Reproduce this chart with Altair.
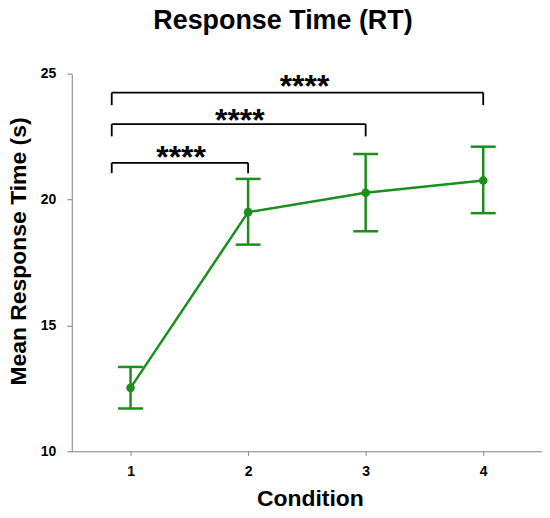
import altair as alt
import pandas as pd

# ---- data ----
chart_title = ["Response Time (RT)"]
conditions = [1, 2, 3, 4]
mean_rt = [12.52, 19.50, 20.27, 20.76]
lower_rt = [11.70, 18.21, 18.74, 19.46]
upper_rt = [13.35, 20.82, 21.81, 22.10]

# significance brackets (all start just left of condition 1)
br_start = [0.84, 0.84, 0.84]
br_end = [2, 3, 4]
br_top = [21.46, 23.00, 24.25]
br_drop = [21.05, 22.51, 23.75]
star_x = [1.43, 1.93, 2.48]
star_y = [21.97, 23.43, 24.78]
star_label = ["****", "****", "****"]

GREEN = "#1a8f1a"
FONT = "Liberation Sans"

df = pd.DataFrame({"cond": conditions, "mean": mean_rt, "lo": lower_rt, "hi": upper_rt})
br = pd.DataFrame({"x0": br_start, "x1": br_end, "top": br_top, "drop": br_drop})
br_left = pd.DataFrame({"x": br_start, "top": br_top, "drop": br_drop})
br_right = pd.DataFrame({"x": br_end, "top": br_top, "drop": br_drop})
stars = pd.DataFrame({"x": star_x, "y": star_y, "t": star_label})
ttl = pd.DataFrame({"t": chart_title})

xscale = alt.Scale(domain=[0.5, 4.5], nice=False, zero=False)
yscale = alt.Scale(domain=[10, 25], nice=False, zero=False)

xaxis = alt.Axis(
    values=[1, 2, 3, 4], format="d", grid=False,
    title="Condition", titleFont=FONT, titleFontSize=23, titleFontWeight="bold",
    titleColor="black", titleX=239, titleY=54, titleBaseline="alphabetic",
    labelFont=FONT, labelFontSize=14, labelFontWeight="bold", labelColor="black",
    labelPadding=9, tickSize=4, domainColor="#808080", tickColor="#808080",
    domainWidth=1, tickWidth=1,
)
yaxis = alt.Axis(
    values=[10, 15, 20, 25], format="d", grid=False,
    title="Mean Response Time (s)", titleFont=FONT, titleFontSize=23,
    titleFontWeight="bold", titleColor="black", titleAngle=270,
    titleX=-53, titleY=178, titleBaseline="middle", titleAlign="center",
    labelFont=FONT, labelFontSize=14, labelFontWeight="bold", labelColor="black",
    labelPadding=11, tickSize=5, domainColor="#808080", tickColor="#808080",
    domainWidth=1, tickWidth=1,
)

base = alt.Chart(df)
line = base.mark_line(color=GREEN, strokeWidth=2.5).encode(
    x=alt.X("cond:Q", scale=xscale, axis=xaxis),
    y=alt.Y("mean:Q", scale=yscale, axis=yaxis),
)
err = base.mark_rule(color=GREEN, strokeWidth=2.5).encode(
    x="cond:Q", y="lo:Q", y2="hi:Q"
)
cap_hi = base.mark_tick(color=GREEN, orient="horizontal", size=25, thickness=2.5, opacity=1).encode(
    x="cond:Q", y="hi:Q"
)
cap_lo = base.mark_tick(color=GREEN, orient="horizontal", size=25, thickness=2.5, opacity=1).encode(
    x="cond:Q", y="lo:Q"
)
pts = base.mark_circle(color=GREEN, size=75, opacity=1).encode(x="cond:Q", y="mean:Q")

bh = alt.Chart(br).mark_rule(color="black", strokeWidth=1.8).encode(
    x="x0:Q", x2="x1:Q", y="top:Q"
)
bl = alt.Chart(br_left).mark_rule(color="black", strokeWidth=1.8).encode(
    x="x:Q", y="top:Q", y2="drop:Q"
)
brr = alt.Chart(br_right).mark_rule(color="black", strokeWidth=1.8).encode(
    x="x:Q", y="top:Q", y2="drop:Q"
)
st = alt.Chart(stars).mark_text(
    font=FONT, fontSize=32, fontWeight="bold", color="black",
    baseline="alphabetic", align="center", dy=18,
).encode(x="x:Q", y="y:Q", text="t:N")

title_mark = alt.Chart(ttl).mark_text(
    font=FONT, fontSize=27, fontWeight="bold", color="black",
    baseline="alphabetic", align="center",
).encode(text="t:N", x=alt.value(212), y=alt.value(-45))

chart = alt.layer(err, cap_hi, cap_lo, line, pts, bh, bl, brr, st, title_mark).properties(
    width=472,
    height=379,
    autosize=alt.AutoSizeParams(type="none"),
    padding={"left": 64, "top": 65, "right": 0, "bottom": 60},
).configure_view(stroke=None)

chart.save("out.html", embed_options={"renderer": "svg", "actions": False})
